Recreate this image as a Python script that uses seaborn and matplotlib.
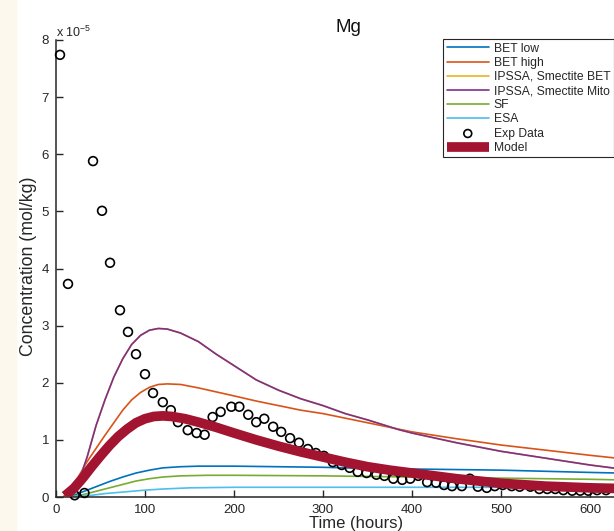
import numpy as np
import pandas as pd
import seaborn as sns
import matplotlib.pyplot as plt
from matplotlib.patches import Rectangle

# values in units of 1e-5 mol/kg
bet_low_t = [12, 20, 30, 40, 50, 60, 75, 90, 105, 120, 140, 160, 200, 250, 300, 350, 400, 450, 500, 550, 600, 630]
bet_low_c = [0.0, 0.03, 0.09, 0.15, 0.21, 0.27, 0.35, 0.42, 0.47, 0.51, 0.53, 0.54, 0.54, 0.53, 0.52, 0.50, 0.49, 0.48, 0.47, 0.45, 0.43, 0.42]

bet_high_t = [8, 15, 25, 35, 45, 55, 65, 75, 85, 95, 105, 115, 125, 140, 160, 180, 200, 225, 250, 275, 300, 350, 400, 450, 500, 550, 600, 630]
bet_high_c = [0.0, 0.12, 0.35, 0.62, 0.85, 1.08, 1.30, 1.52, 1.70, 1.83, 1.92, 1.97, 1.98, 1.97, 1.91, 1.84, 1.77, 1.68, 1.60, 1.52, 1.46, 1.30, 1.14, 1.02, 0.91, 0.82, 0.73, 0.68]

ipssa_t = [15, 25, 35, 45, 55, 65, 75, 85, 95, 105, 115, 125, 140, 160, 180, 200, 225, 250, 275, 300, 325, 350, 385, 400, 450, 500, 550, 600, 630]
ipssa_bet_c = [0.0, 0.25, 0.70, 1.25, 1.70, 2.10, 2.42, 2.67, 2.83, 2.92, 2.95, 2.94, 2.87, 2.72, 2.50, 2.30, 2.05, 1.87, 1.72, 1.60, 1.46, 1.35, 1.18, 1.12, 0.95, 0.80, 0.68, 0.56, 0.50]
ipssa_mito_c = [0.0, 0.25, 0.70, 1.25, 1.70, 2.10, 2.42, 2.67, 2.83, 2.92, 2.95, 2.94, 2.87, 2.72, 2.50, 2.30, 2.05, 1.87, 1.72, 1.60, 1.46, 1.35, 1.18, 1.12, 0.95, 0.80, 0.68, 0.56, 0.50]

sf_t = [12, 20, 30, 45, 60, 75, 90, 105, 120, 140, 170, 200, 300, 400, 500, 600, 630]
sf_c = [0.0, 0.01, 0.04, 0.10, 0.16, 0.22, 0.28, 0.32, 0.35, 0.37, 0.38, 0.38, 0.37, 0.35, 0.33, 0.31, 0.30]

esa_t = [12, 25, 40, 55, 70, 85, 100, 120, 150, 200, 300, 400, 500, 600, 630]
esa_c = [0.0, 0.01, 0.03, 0.06, 0.08, 0.10, 0.12, 0.14, 0.16, 0.17, 0.17, 0.17, 0.17, 0.17, 0.17]

model_t = [10, 20, 30, 40, 50, 60, 70, 80, 90, 100, 110, 120, 130, 145, 160, 180, 200, 225, 250, 275, 300, 325, 350, 375, 400, 450, 500, 550, 600, 630]
model_c = [0.02, 0.15, 0.33, 0.53, 0.72, 0.90, 1.06, 1.19, 1.30, 1.37, 1.41, 1.42, 1.41, 1.37, 1.31, 1.22, 1.12, 1.00, 0.89, 0.79, 0.70, 0.61, 0.53, 0.47, 0.42, 0.32, 0.24, 0.19, 0.16, 0.15]

exp_t = [4.5, 13.5, 21, 32, 41.6, 51.7, 60.7, 71.9, 80.9, 89.9, 100, 109, 120, 129, 137, 148, 158, 167, 176, 185,
         197, 206, 216, 225, 234, 244, 253, 263, 273, 283, 292, 301, 311, 321, 330, 339, 349, 360, 369, 379,
         389, 398, 407, 417, 427, 436, 445, 456, 465, 474, 484, 493, 502, 512, 521, 533, 543, 552, 561, 570,
         580, 589, 598, 608, 618]
exp_c = [7.74, 3.73, 0.03, 0.07, 5.88, 5.01, 4.10, 3.27, 2.89, 2.50, 2.15, 1.82, 1.66, 1.52, 1.31, 1.17, 1.12, 1.09, 1.40, 1.49,
         1.58, 1.58, 1.44, 1.31, 1.37, 1.23, 1.14, 1.03, 0.95, 0.84, 0.77, 0.72, 0.61, 0.56, 0.51, 0.44, 0.42, 0.39, 0.37, 0.32,
         0.30, 0.32, 0.37, 0.26, 0.25, 0.21, 0.19, 0.19, 0.32, 0.18, 0.16, 0.19, 0.21, 0.19, 0.18, 0.18, 0.14, 0.14, 0.14, 0.12,
         0.11, 0.11, 0.11, 0.12, 0.12]

sns.set_style('ticks')
plt.rcParams['font.family'] = ['Liberation Sans', 'DejaVu Sans']
plt.rcParams['mathtext.fontset'] = 'custom'
plt.rcParams['mathtext.rm'] = 'Liberation Sans'

fig = plt.figure(figsize=(6.14, 5.31), dpi=100)
fig.patch.set_facecolor('white')
# cream strip on the left edge
fig.patches.append(Rectangle((0, 0), 16 / 614, 1, transform=fig.transFigure, color='#fdf8ee', zorder=0))

ax = fig.add_axes([56 / 614, 34 / 531, 623 / 614, 457 / 531])
ax.set_facecolor('none')

series = [
    ('BET low', bet_low_t, bet_low_c, '#0072BD'),
    ('BET high', bet_high_t, bet_high_c, '#D95319'),
    ('IPSSA, Smectite BET', ipssa_t, ipssa_bet_c, '#EDB120'),
    ('IPSSA, Smectite Mito', ipssa_t, ipssa_mito_c, '#7E2F8E'),
    ('SF', sf_t, sf_c, '#77AC30'),
    ('ESA', esa_t, esa_c, '#4DBEEE'),
]
for i, (name, t, c, col) in enumerate(series):
    df = pd.DataFrame({'t': t, 'c': c})
    sns.lineplot(data=df, x='t', y='c', ax=ax, color=col, lw=1.2, label=name, zorder=2 + i * 0.1)

exp = pd.DataFrame({'t': exp_t, 'c': exp_c})
sns.scatterplot(data=exp, x='t', y='c', ax=ax, marker='o', s=40, facecolors='none',
                edgecolor='black', linewidth=1.2, label='Exp Data', zorder=3, clip_on=False)

mdl = pd.DataFrame({'t': model_t, 'c': model_c})
sns.lineplot(data=mdl, x='t', y='c', ax=ax, color='#A2142F', lw=7, label='Model', zorder=4,
             solid_capstyle='butt')

ax.set_xlim(0, 700)
ax.set_ylim(0, 8)
ax.set_xticks(range(0, 601, 100))
ax.set_yticks(range(0, 9))
ax.set_xlabel('')
ax.set_ylabel('')
for s in ['top', 'right']:
    ax.spines[s].set_visible(False)
for s in ['left', 'bottom']:
    ax.spines[s].set_linewidth(1.1)
    ax.spines[s].set_color('#262626')
ax.tick_params(direction='in', length=5, width=1.0, labelsize=9.5, colors='#262626', pad=5)

fig.text(29 / 614, 1 - 266 / 531, 'Concentration (mol/kg)', rotation=90, ha='center', va='center',
         fontsize=12.8, color='#262626')
fig.text(356 / 614, 1 - 516 / 531, 'Time (hours)', ha='center', va='top', fontsize=12, color='#262626')
fig.text(348 / 614, 1 - 28 / 531, 'Mg', ha='center', va='center', fontsize=13.5, color='#111111')
fig.text(56 / 614, 1 - 40 / 531, r'x 10$^{-5}$', ha='left', va='bottom', fontsize=9, color='#262626')

leg = ax.legend(loc='upper left', bbox_to_anchor=(443 / 614, 1 - 39 / 531), bbox_transform=fig.transFigure,
                fontsize=8.7, frameon=True, fancybox=False, handlelength=3.5, handletextpad=0.4,
                labelspacing=0.18, borderpad=0.3, borderaxespad=0, scatterpoints=1)
leg.get_frame().set_edgecolor('#262626')
leg.get_frame().set_linewidth(0.8)
leg.get_frame().set_alpha(1)
for h in leg.legend_handles:
    if hasattr(h, 'set_sizes'):
        h.set_sizes([32])

fig.savefig('out.png', dpi=100)
